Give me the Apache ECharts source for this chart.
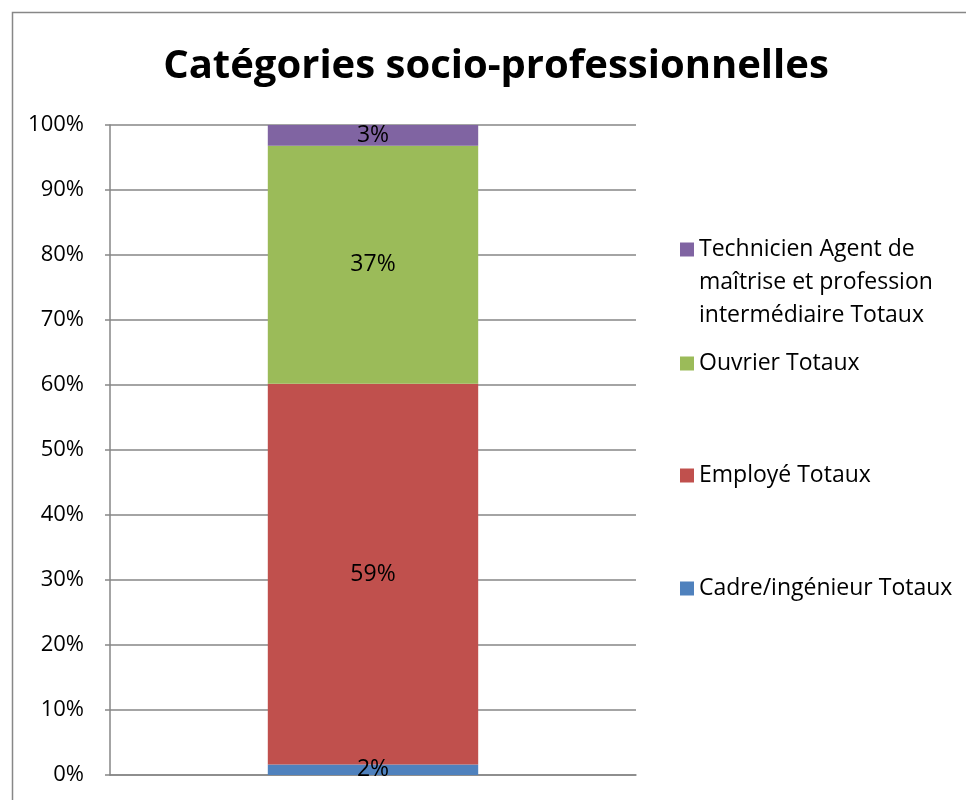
<!DOCTYPE html>
<html>
<head>
<meta charset="utf-8">
<script src="https://cdn.jsdelivr.net/npm/echarts@6/dist/echarts.min.js"></script>
<style>
  html, body { margin: 0; padding: 0; background: #fff; }
  #chart { width: 966px; height: 800px; }
</style>
</head>
<body>
<div id="chart"></div>
<script>
// données (parts en %)
const categories = ['Totaux'];
const seriesNames = [
    'Cadre/ingénieur Totaux',
    'Employé Totaux',
    'Ouvrier Totaux',
    'Technicien Agent de\nmaîtrise et profession\nintermédiaire Totaux'
];
const cadre = [1.6];
const employe = [58.6];
const ouvrier = [36.6];
const technicien = [3.2];
const colors = ['#4F81BD', '#C0504D', '#9BBB59', '#8064A2'];
const yTicks = [0, 10, 20, 30, 40, 50, 60, 70, 80, 90, 100];

const font = '"Open Sans", "Noto Sans", sans-serif';
const myChart = echarts.init(document.getElementById('chart'));

const values = [cadre, employe, ouvrier, technicien];
const series = seriesNames.map((name, i) => ({
    name: name,
    type: 'bar',
    stack: 'total',
    barWidth: '40%',
    data: values[i],
    itemStyle: { color: colors[i] },
    label: {
        show: true,
        position: 'inside',
        color: '#000',
        fontFamily: font,
        fontSize: 23,
        formatter: p => Math.round(p.value) + '%'
    }
}));

// une légende par entrée, comme dans Excel (espacement irrégulier)
const legendTops = [572, 459, 347, 167];
const legends = seriesNames.map((name, i) => ({
    data: [name],
    orient: 'vertical',
    left: 680,
    top: legendTops[i],
    padding: 0,
    itemWidth: 14,
    itemHeight: 14,
    icon: 'rect',
    selectedMode: false,
    // carré aligné sur la première ligne : deux lignes vides avant le texte
    formatter: n => (i === 3 ? '\n\n' + n : n),
    textStyle: {
        color: '#000',
        fontFamily: font,
        fontSize: 23,
        lineHeight: 33
    }
}));

const option = {
    animation: false,
    color: colors,
    title: {
        text: 'Catégories socio-professionnelles',
        left: 491,
        textAlign: 'center',
        top: 42,
        textStyle: {
            fontFamily: font,
            fontWeight: 'bold',
            fontSize: 40,
            color: '#000'
        }
    },
    legend: legends,
    grid: {
        left: 110,
        right: 330,
        top: 125,
        bottom: 25
    },
    xAxis: {
        type: 'category',
        data: categories,
        axisLine: { lineStyle: { color: '#868686', width: 1.5 } },
        axisTick: { show: false },
        axisLabel: { show: false }
    },
    yAxis: {
        type: 'value',
        min: 0,
        max: 100,
        interval: 10,
        axisLine: { show: true, lineStyle: { color: '#868686', width: 1.5 } },
        axisTick: { show: true, length: 5, lineStyle: { color: '#868686', width: 1.5 } },
        splitLine: { lineStyle: { color: '#868686', width: 1.5 } },
        axisLabel: {
            margin: 26,
            color: '#000',
            fontFamily: font,
            fontSize: 22,
            formatter: v => yTicks.includes(v) ? v + '%' : ''
        }
    },
    graphic: [{
        type: 'rect',
        silent: true,
        shape: { x: 12.5, y: 12.5, width: 1000, height: 1000 },
        style: { fill: 'none', stroke: '#878787', lineWidth: 1.5 }
    }],
    series: series
};
myChart.setOption(option);
</script>
</body>
</html>
